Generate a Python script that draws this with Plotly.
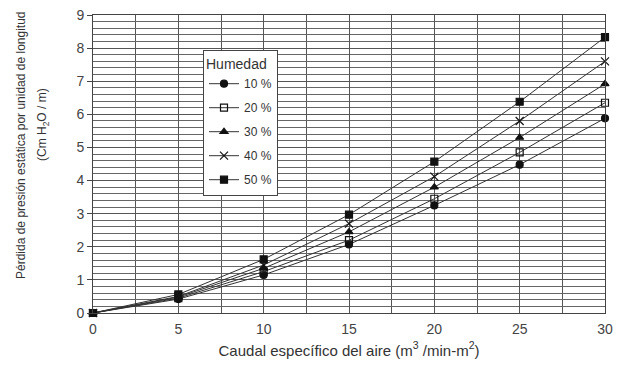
import plotly.graph_objects as go

caudal = [0, 5, 10, 15, 20, 25, 30]
h10 = [0, 0.42, 1.15, 2.07, 3.25, 4.48, 5.88]
h20 = [0, 0.45, 1.25, 2.2, 3.45, 4.85, 6.35]
h30 = [0, 0.48, 1.35, 2.45, 3.8, 5.3, 6.92]
h40 = [0, 0.5, 1.45, 2.7, 4.12, 5.8, 7.6]
h50 = [0, 0.56, 1.62, 2.97, 4.57, 6.38, 8.33]
series = [
    ("10 %", h10, "circle"),
    ("20 %", h20, "square-open"),
    ("30 %", h30, "triangle-up"),
    ("40 %", h40, "x-thin-open"),
    ("50 %", h50, "square"),
]
ytitle1 = "Pérdida de presión estática por unidad de longitud"
ytitle2 = "(Cm H<sub>2</sub>O / m)"
xtitle = "Caudal específico del aire (m<sup>3</sup> /min-m<sup>2</sup>)"

fig = go.Figure()
for name, vals, sym in series:
    fig.add_trace(go.Scatter(
        x=caudal, y=vals, name=name, mode="lines+markers",
        legendgroup=name,
        line=dict(color="#333333", width=1),
        marker=dict(symbol=sym, size=7 if sym != "x-thin-open" else 8,
                    color="#111111", line=dict(color="#111111", width=1.2)),
        cliponaxis=False,
    ))

W, H = 620, 379
L, R, T, B = 93, 15, 15, 66
PW, PH = W - L - R, H - T - B


def px_x(p):  # page x pixel -> paper fraction
    return (p - L) / PW


def px_y(p):  # page y pixel -> paper fraction
    return (H - B - p) / PH


fig.update_layout(
    width=W, height=H,
    margin=dict(l=L, r=R, t=T, b=B),
    paper_bgcolor="white", plot_bgcolor="white",
    font=dict(family="Liberation Sans, Arial, sans-serif", color="#333333"),
    showlegend=True,
    legend=dict(
        title=dict(text="Humedad", font=dict(size=14, color="#333333")),
        x=px_x(203), y=px_y(50),
        xanchor="left", yanchor="top",
        bgcolor="white", bordercolor="#444444", borderwidth=1,
        font=dict(size=12, color="#333333"),
        tracegroupgap=5,
    ),
    xaxis=dict(
        range=[0, 30], tick0=0, dtick=5, automargin=False,
        showgrid=True, gridcolor="#555555", gridwidth=1,
        minor=dict(dtick=2.5, showgrid=True, gridcolor="#555555", gridwidth=1),
        zeroline=False, showline=True, linecolor="#444444", mirror=True,
        ticks="", tickfont=dict(size=14, color="#444444"),
        ticklabelstandoff=3,
        title=dict(text=xtitle, font=dict(size=15, color="#333333"), standoff=9),
    ),
    yaxis=dict(
        range=[0, 9], tick0=0, dtick=1, automargin=False,
        showgrid=True, gridcolor="#555555", gridwidth=1,
        minor=dict(dtick=0.2, showgrid=True, gridcolor="#666666", gridwidth=1),
        zeroline=False, showline=True, linecolor="#444444", mirror=True,
        ticks="outside", ticklen=5, tickcolor="#444444",
        tickfont=dict(size=14, color="#444444"),
        ticklabeloverflow="allow",
    ),
    annotations=[
        dict(text=ytitle1, xref="paper", yref="paper", textangle=-90,
             x=px_x(21), y=px_y(145),
             xanchor="center", yanchor="middle", showarrow=False,
             font=dict(size=12, color="#333333")),
        dict(text=ytitle2, xref="paper", yref="paper", textangle=-90,
             x=px_x(43), y=px_y(125),
             xanchor="center", yanchor="middle", showarrow=False,
             font=dict(size=12, color="#333333")),
    ],
)

fig.write_html("out.html",
               config={"displayModeBar": False},
               post_script="document.body.style.margin='0';")
